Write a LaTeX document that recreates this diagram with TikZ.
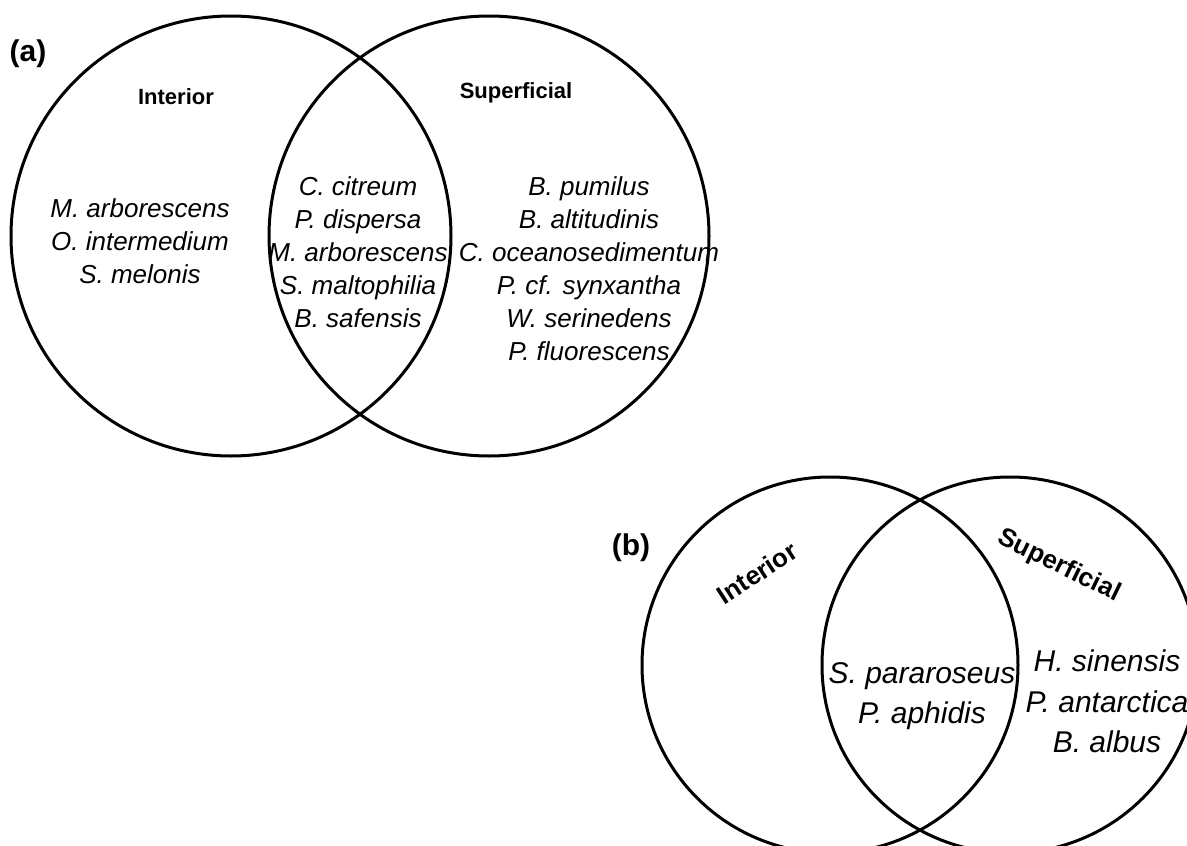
\documentclass[tikz,border=0pt]{standalone}
\usepackage{fontspec}
\setmainfont{Liberation Sans}

\tikzset{
  venn/.style={line width=3pt},
  panel/.style={font=\fontsize{30}{36}\selectfont\bfseries, inner sep=0pt},
  region/.style={font=\fontsize{22}{26}\selectfont\bfseries, inner sep=0pt, anchor=base},
  regionb/.style={font=\fontsize{26}{30}\selectfont\bfseries, inner sep=0pt},
  taxa/.style={font=\fontsize{26}{33}\selectfont\itshape, align=center, inner sep=0pt, anchor=north},
  taxab/.style={font=\fontsize{30}{40.5}\selectfont\itshape, align=center, inner sep=0pt, anchor=north},
}

\begin{document}
\begin{tikzpicture}[x=1pt,y=-1pt]
\useasboundingbox (0,0) rectangle (1187,846);
% (a) all isolates
\coordinate (IntA) at (231,236);
\coordinate (SupA) at (489,236);
\draw [venn] (IntA) circle (220pt);
\draw [venn] (SupA) circle (220pt);
\node [panel] (labA) at (28,54) {(a)};
\node [region] (IntAt) at (176,104) {Interior};
\node [region] (SupAt) at (516,98) {Superficial};
\node [taxa] (IntAonly) at (140,198) {M. arborescens\\O. intermedium\\S. melonis};
\node [taxa] (BothA) at (358,176) {C. citreum\\P. dispersa\\M. arborescens\\S. maltophilia\\B. safensis};
\node [taxa] (SupAonly) at (589,176) {B. pumilus\\B. altitudinis\\C. oceanosedimentum\\P. cf. synxantha\\W. serinedens\\P. fluorescens};
% (b)
\coordinate (IntB) at (830,665);
\coordinate (SupB) at (1010,665);
\draw [venn] (IntB) circle (188pt);
\draw [venn] (SupB) circle (188pt);
\node [panel] (labB) at (631,548) {(b)};
\node [regionb, rotate=33] (IntBt) at (757,573) {Interior};
\node [regionb, rotate=-26] (SupBt) at (1059,566) {Superficial};
\node [taxab] (BothB) at (922,662) {S. pararoseus\\P. aphidis};
\node [taxab] (SupBonly) at (1107,650) {H. sinensis\\P. antarctica\\B. albus};
\end{tikzpicture}
\end{document}
